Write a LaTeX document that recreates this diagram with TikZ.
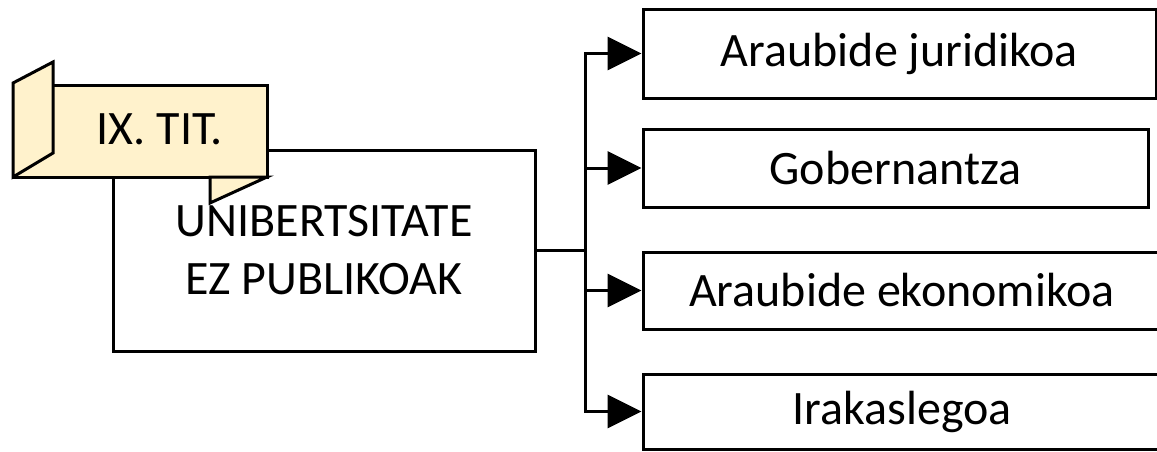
\documentclass[tikz,border=0pt]{standalone}
\usepackage{fontspec}
\setmainfont{Carlito}
\usetikzlibrary{arrows.meta}
\definecolor{banfill}{HTML}{FFF2CC}
\tikzset{
  box/.style={draw=black, line width=3pt, inner sep=0pt, font=\fontsize{48}{58}\selectfont},
  arr/.style={draw=black, line width=3pt, -{Triangle[length=34pt,width=33pt]}},
  conn/.style={draw=black, line width=3pt, line cap=rect},
  banner/.style={draw=black, line width=3pt, fill=banfill, line join=miter}
}
\begin{document}
\begin{tikzpicture}[x=1pt,y=-1pt]
\useasboundingbox (0,0) rectangle (1157,451);
% main box
\node[box, minimum width=422pt, minimum height=201pt, align=center] (main) at (324,250.5) {UNIBERTSITATE\\EZ PUBLIKOAK};
% right boxes
\node[box, minimum width=513pt, minimum height=89pt] (r1) at (899.5,53.5) {Araubide juridikoa};
\node[box, minimum width=505pt, minimum height=78pt] (r2) at (895.5,168) {Gobernantza};
\node[box, minimum width=518pt, minimum height=77pt] (r3) at (902,290.5) {Araubide ekonomikoa};
\node[box, minimum width=518pt, minimum height=75pt] (r4) at (902,411.5) {Irakaslegoa};
% connectors
\coordinate (j) at (585,250.5);
\draw[conn] (main.east) -- (j);
\draw[conn] (j |- r1.west) -- (j |- r4.west);
\foreach \r in {r1,r2,r3,r4}{
  \draw[arr] (j |- \r.west) -- (\r.west);
}
% banner
\draw[banner] (13,85) rectangle (267,177);
\draw[banner] (13,83) -- (53,62) -- (53,153) -- (13,177) -- cycle;
\draw[banner] (210,177) -- (267,177) -- (210,203) -- cycle;
\node[font=\fontsize{48}{58}\selectfont, inner sep=0pt] (ban) at (160,129) {IX. TIT.};
\end{tikzpicture}
\end{document}
